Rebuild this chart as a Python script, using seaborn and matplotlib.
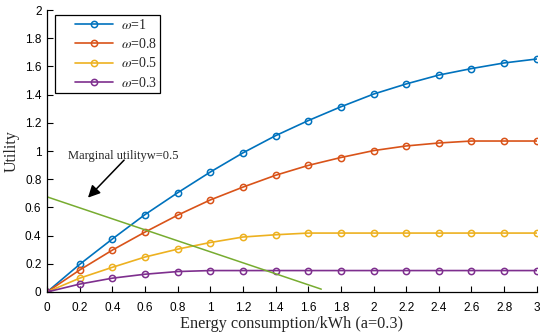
import matplotlib
matplotlib.use("Agg")
import matplotlib.pyplot as plt
import seaborn as sns
import pandas as pd
from matplotlib.ticker import FuncFormatter
from matplotlib.legend_handler import HandlerLine2D
from matplotlib.lines import Line2D

sns.set_style("ticks")
plt.rcParams["font.family"] = ["Liberation Sans", "DejaVu Sans"]
plt.rcParams["mathtext.fontset"] = "stix"

energy = [0, 0.2, 0.4, 0.6, 0.8, 1.0, 1.2, 1.4, 1.6, 1.8, 2.0, 2.2, 2.4, 2.6, 2.8, 3.0]
u_w1 = [0, 0.196, 0.376, 0.549, 0.704, 0.851, 0.987, 1.109, 1.216, 1.314, 1.404, 1.476, 1.539, 1.585, 1.625, 1.653]
u_w08 = [0, 0.156, 0.297, 0.425, 0.545, 0.653, 0.744, 0.828, 0.898, 0.954, 1.003, 1.036, 1.057, 1.071, 1.071, 1.071]
u_w05 = [0, 0.098, 0.175, 0.248, 0.304, 0.351, 0.390, 0.406, 0.418, 0.418, 0.418, 0.418, 0.418, 0.418, 0.418, 0.418]
u_w03 = [0, 0.056, 0.098, 0.126, 0.145, 0.152, 0.152, 0.152, 0.152, 0.152, 0.152, 0.152, 0.152, 0.152, 0.152, 0.152]
series_labels = [r"$\omega$=1", r"$\omega$=0.8", r"$\omega$=0.5", r"$\omega$=0.3"]
colors = ["#0072BD", "#D95319", "#EDB120", "#7E2F8E"]

marginal_x = [0, 1.68]
marginal_y = [0.675, 0.02]

fig = plt.figure(figsize=(5.5, 3.36), dpi=100)
ax = fig.add_axes([0.0855, 0.131, 0.8905, 0.839])

for ys, lab, c in zip([u_w1, u_w08, u_w05, u_w03], series_labels, colors):
    df = pd.DataFrame({"x": energy, "y": ys})
    sns.lineplot(data=df, x="x", y="y", ax=ax, color=c, label=lab, lw=1.2,
                 marker="o", markersize=4.5, markerfacecolor="none",
                 markeredgecolor=c, markeredgewidth=1.1)

dfm = pd.DataFrame({"x": marginal_x, "y": marginal_y})
sns.lineplot(data=dfm, x="x", y="y", ax=ax, color="#77AC30", lw=1.1, legend=False)

ax.annotate("", xy=(0.239, 0.655), xytext=(0.484, 0.95),
            arrowprops=dict(arrowstyle="-|>", color="k", lw=1.1, mutation_scale=18))
ax.text(0.13, 0.963, "Marginal utilityw=0.5", fontsize=9,
        family=["Liberation Serif"], va="center", ha="left")

ax.set_xlim(0, 3)
ax.set_ylim(0, 2)
ax.set_xticks([i * 0.2 for i in range(16)])
ax.set_yticks([i * 0.2 for i in range(11)])
fmt = FuncFormatter(lambda v, p: "%g" % round(v, 2))
ax.xaxis.set_major_formatter(fmt)
ax.yaxis.set_major_formatter(fmt)
ax.tick_params(direction="in", length=4, width=0.8, labelsize=8.5, colors="k", pad=4)
ax.tick_params(axis="x", pad=7)
for s in ["top", "right"]:
    ax.spines[s].set_visible(False)
for s in ["left", "bottom"]:
    ax.spines[s].set_color("k")
    ax.spines[s].set_linewidth(0.9)

ax.set_xlabel("Energy consumption/kWh (a=0.3)", fontsize=11.7, family=["Liberation Serif"], labelpad=2)
ax.set_ylabel("Utility", fontsize=11.5, family=["Liberation Serif"], labelpad=3.5)

handles, labels = ax.get_legend_handles_labels()
labels = [l + r"$\quad$" for l in labels]
leg = ax.legend(handles, labels, loc="upper left", bbox_to_anchor=(0.016, 0.982), borderaxespad=0,
                fancybox=False, edgecolor="k", framealpha=1, handlelength=4.0,
                handletextpad=0.55, labelspacing=0.38, borderpad=0.2,
                handler_map={Line2D: HandlerLine2D(xpad=1.25)},
                prop={"family": "Liberation Serif", "size": 10})
leg.get_frame().set_linewidth(0.9)

fig.savefig("out.png", dpi=100)
